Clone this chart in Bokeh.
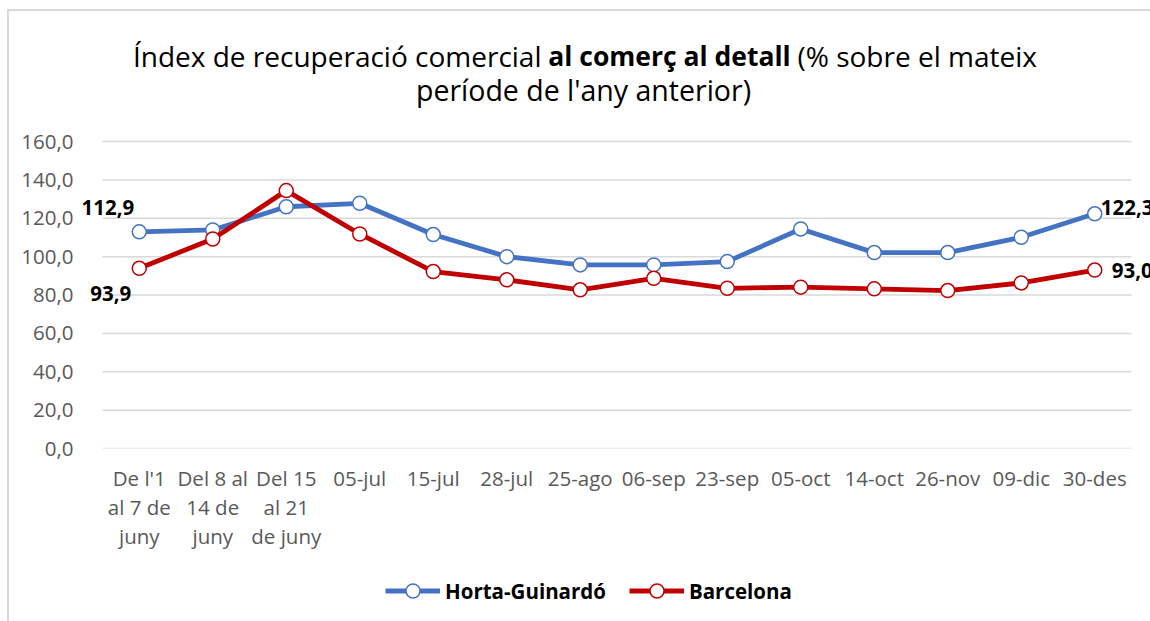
from bokeh.plotting import figure
from bokeh.layouts import column
from bokeh.models import Range1d, Label, Legend, LegendItem, FixedTicker, InlineStyleSheet
from bokeh.embed import file_html
from bokeh.resources import INLINE

categories = ["De l'1\nal 7 de\njuny", "Del 8 al\n14 de\njuny", "Del 15\nal 21\nde juny",
              "05-jul", "15-jul", "28-jul", "25-ago", "06-sep", "23-sep", "05-oct",
              "14-oct", "26-nov", "09-dic", "30-des"]
horta = [112.9, 113.9, 126.0, 127.8, 111.5, 100.0, 95.7, 95.7, 97.4, 114.4, 102.1, 102.1, 110.1, 122.3]
barcelona = [93.9, 109.2, 134.4, 111.8, 92.2, 87.9, 82.7, 88.7, 83.5, 84.1, 83.2, 82.3, 86.3, 93.0]
y_ticks = [0, 20, 40, 60, 80, 100, 120, 140, 160]
series_names = ["Horta-Guinardó", "Barcelona"]

BLUE = "#4472C4"
RED = "#C00000"
FONT = "Open Sans"

W, H = 1150, 621
LEG_H = 53
H1 = H - LEG_H
# layout geometry (pixels)
FRAME_L, FRAME_R, FRAME_B = 79, 1150, 448
GRID_L, GRID_R, GRID_T = 102, 1131, 141
n = len(categories)
step = (GRID_R - GRID_L) / n
x0 = -0.5 - (GRID_L - FRAME_L) / step
x1 = n - 0.5 + (FRAME_R - GRID_R) / step
y_top = y_ticks[-1] * FRAME_B / (FRAME_B - GRID_T)

xs = list(range(n))

p = figure(width=W, height=H1, output_backend="svg", toolbar_location=None,
           x_range=Range1d(x0, x1), y_range=Range1d(0, y_top),
           min_border_left=FRAME_L, min_border_right=W - FRAME_R, min_border_top=0,
           min_border_bottom=H1 - FRAME_B)
p.outline_line_color = None
p.background_fill_color = "white"
p.border_fill_color = "white"

# axes
p.xaxis.ticker = FixedTicker(ticks=xs)
p.xaxis.major_label_overrides = {i: c for i, c in enumerate(categories)}
p.yaxis.ticker = FixedTicker(ticks=y_ticks)
p.yaxis.major_label_overrides = {t: f"{t:.1f}".replace(".", ",") for t in y_ticks}
for ax in (p.xaxis[0], p.yaxis[0]):
    ax.axis_line_color = None
    ax.major_tick_line_color = None
    ax.minor_tick_line_color = None
    ax.major_label_text_font = FONT
    ax.major_label_text_font_size = "20.5px"
    ax.major_label_text_color = "#595959"
p.xaxis.major_label_standoff = 9
p.xaxis.major_label_text_line_height = 1.04
p.yaxis.major_label_standoff = 0
p.xgrid.grid_line_color = None
p.ygrid.grid_line_color = None

# horizontal gridlines spanning the category band
p.segment(x0=[-0.5] * len(y_ticks), x1=[n - 0.5] * len(y_ticks), y0=y_ticks, y1=y_ticks,
          line_color="#D9D9D9", line_width=1.5)

# series
line_kw = dict(line_width=4.8)
mark_kw = dict(size=14, marker="circle", fill_color="white", line_width=1.5)
p.line(xs, horta, line_color=BLUE, **line_kw)
p.scatter(xs, horta, line_color=BLUE, **mark_kw)
p.line(xs, barcelona, line_color=RED, **line_kw)
p.scatter(xs, barcelona, line_color=RED, **mark_kw)

def fmt(v):
    return f"{v:.1f}".replace(".", ",")

lab_style = dict(text_font=FONT, text_font_style="bold", text_font_size="20.5px",
                 text_color="black", text_baseline="middle")
p.add_layout(Label(x=xs[0], y=horta[0], text=fmt(horta[0]), x_offset=-5, y_offset=24,
                   text_align="right", **lab_style))
p.add_layout(Label(x=xs[0], y=barcelona[0], text=fmt(barcelona[0]), x_offset=-8, y_offset=-25,
                   text_align="right", **lab_style))
p.add_layout(Label(x=xs[-1], y=horta[-1], text=fmt(horta[-1]), x_offset=6, y_offset=6,
                   text_align="left", **lab_style))
p.add_layout(Label(x=xs[-1], y=barcelona[-1], text=fmt(barcelona[-1]), x_offset=17, y_offset=0,
                   text_align="left", **lab_style))

# title (screen units relative to the frame's bottom-left corner)
t_style = dict(x_units="screen", y_units="screen", text_font=FONT,
               text_color="black", text_baseline="middle")
p.add_layout(Label(x=541 - FRAME_L, y=FRAME_B - 55, text="Índex de recuperació comercial",
                   text_align="right", text_font_size="28px", **t_style))
p.add_layout(Label(x=669 - FRAME_L, y=FRAME_B - 55, text="al comerç al detall",
                   text_align="center", text_font_style="bold", text_font_size="26.5px", **t_style))
p.add_layout(Label(x=797 - FRAME_L, y=FRAME_B - 55, text="(% sobre el mateix",
                   text_align="left", text_font_size="28px", **t_style))
p.add_layout(Label(x=583 - FRAME_L, y=FRAME_B - 89, text="període de l'any anterior)",
                   text_align="center", text_font_size="28.5px", **t_style))

# legend strip below the chart (its frame aligns with the chart frame)
pl = figure(width=W, height=LEG_H, output_backend="svg", toolbar_location=None,
            x_axis_location=None, y_axis_location=None, min_border=0,
            x_range=Range1d(0, 1), y_range=Range1d(0, 1))
pl.outline_line_color = None
pl.grid.visible = False
items = []
for name, col, vals in zip(series_names, [BLUE, RED], [horta, barcelona]):
    r1 = pl.line(xs[:1], vals[:1], line_color=col, visible=False, **line_kw)
    r2 = pl.scatter(xs[:1], vals[:1], line_color=col, visible=False, **mark_kw)
    items.append(LegendItem(label=name, renderers=[r1, r2]))
legend = Legend(items=items, orientation="horizontal", location=(385 - FRAME_L, 13),
                border_line_color=None, background_fill_alpha=0,
                label_text_font=FONT, label_text_font_style="bold",
                label_text_font_size="20.5px", label_text_color="black",
                glyph_width=55, glyph_height=35, spacing=23, label_standoff=5,
                padding=0, margin=0)
pl.add_layout(legend)

frame_css = InlineStyleSheet(css="""
:host::after { content: ""; position: absolute; left: 7px; top: 9px; right: -4px; bottom: -4px;
  border-top: 2px solid #D9D9D9; border-left: 2px solid #D9D9D9; pointer-events: none; z-index: 5; }
:host { overflow: hidden; }
""")
layout = column(p, pl, spacing=0, stylesheets=[frame_css])

open("out.html", "w").write(file_html(layout, INLINE))
